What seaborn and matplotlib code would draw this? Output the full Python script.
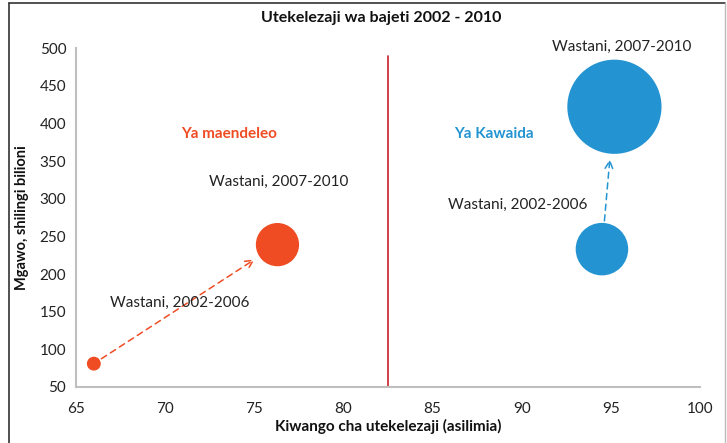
import matplotlib
matplotlib.use("Agg")
import matplotlib.pyplot as plt
from matplotlib.lines import Line2D
import seaborn as sns
import pandas as pd

# data
kundi = ["Ya maendeleo", "Ya maendeleo", "Ya Kawaida", "Ya Kawaida"]
kipindi = ["2002-2006", "2007-2010", "2002-2006", "2007-2010"]
utekelezaji = [66.0, 76.3, 94.5, 95.2]      # asilimia
mgawo = [81, 239, 233, 422]                 # shilingi bilioni
ukubwa = [10, 95, 140, 450]                 # bubble magnitude

x_ticks = [65, 70, 75, 80, 85, 90, 95, 100]
y_ticks = [50, 100, 150, 200, 250, 300, 350, 400, 450, 500]
mgawanyo_x = 82.5

RED = "#EF4C24"
BLUE = "#2394D1"
SIZES = (100, 4600)
SIZE_NORM = (10, 450)


def marker_area(v):
    # same linear mapping seaborn uses for size=
    return SIZES[0] + (v - SIZE_NORM[0]) / (SIZE_NORM[1] - SIZE_NORM[0]) * (SIZES[1] - SIZES[0])


df = pd.DataFrame({"kundi": kundi, "kipindi": kipindi,
                   "x": utekelezaji, "y": mgawo, "ukubwa": ukubwa})

sns.set_theme(style="white")
plt.rcParams["font.family"] = ["Lato", "DejaVu Sans"]

fig = plt.figure(figsize=(7.27, 4.43), dpi=100)
ax = fig.add_axes([76 / 727, 1 - 387 / 443, (700 - 76) / 727, (387 - 48) / 443])

sns.scatterplot(data=df, x="x", y="y", hue="kundi", size="ukubwa",
                palette={"Ya maendeleo": RED, "Ya Kawaida": BLUE},
                sizes=SIZES, size_norm=SIZE_NORM,
                linewidth=0, alpha=1, legend=False, ax=ax, zorder=3)

# vertical divider
ax.plot([mgawanyo_x, mgawanyo_x], [y_ticks[0], 490], color="#C8202C", lw=1.2, zorder=2)

# dashed arrows from small to large bubble in each group
for g, col in [("Ya maendeleo", RED), ("Ya Kawaida", BLUE)]:
    d = df[df.kundi == g].sort_values("kipindi")
    s_small = marker_area(d.ukubwa.iloc[0])
    s_big = marker_area(d.ukubwa.iloc[1])
    ax.annotate("", xy=(d.x.iloc[1], d.y.iloc[1]), xytext=(d.x.iloc[0], d.y.iloc[0]),
                arrowprops=dict(arrowstyle="->", color=col, lw=1.1, ls=(0, (4, 3)),
                                shrinkA=s_small ** 0.5 / 2 + 1.5,
                                shrinkB=s_big ** 0.5 / 2 + 4,
                                mutation_scale=14),
                zorder=2)

ax.text(73.6, 386, "Ya maendeleo", color=RED, fontsize=11, fontweight="bold",
        ha="center", va="center")
ax.text(88.45, 386, "Ya Kawaida", color=BLUE, fontsize=11, fontweight="bold",
        ha="center", va="center")
ax.text(76.35, 322, "Wastani, 2007-2010", fontsize=11, ha="center", va="center", color="#222222")
ax.text(70.8, 161, "Wastani, 2002-2006", fontsize=11, ha="center", va="center", color="#222222")
ax.text(95.6, 502, "Wastani, 2007-2010", fontsize=11, ha="center", va="center", color="#222222")
ax.text(89.8, 292, "Wastani, 2002-2006", fontsize=11, ha="center", va="center", color="#222222")

ax.set_xlim(x_ticks[0], x_ticks[-1])
ax.set_ylim(y_ticks[0], y_ticks[-1])
ax.set_xticks(x_ticks)
ax.set_yticks(y_ticks)
ax.tick_params(axis="both", direction="out", length=4, width=1.2, color="#BFBFBF",
               labelsize=11, labelcolor="#222222", pad=3)
ax.tick_params(axis="x", pad=7)
sns.despine(ax=ax)
for s in ["left", "bottom"]:
    ax.spines[s].set_color("#BFBFBF")
    ax.spines[s].set_linewidth(1.5)

ax.set_xlabel("Kiwango cha utekelezaji (asilimia)", fontsize=11, fontweight="bold",
              color="#111111", labelpad=2)
ax.set_ylabel("Mgawo, shilingi bilioni", fontsize=10.5, fontweight="bold",
              color="#111111", labelpad=8)
fig.text(381 / 727, 1 - 18 / 443, "Utekelezaji wa bajeti 2002 - 2010", fontsize=11.5,
         fontweight="bold", ha="center", va="center", color="#111111")

# outer frame
fig.add_artist(Line2D([9 / 727, 725 / 727], [1 - 3 / 443, 1 - 3 / 443], color="#333333", lw=1.2))
fig.add_artist(Line2D([9 / 727, 9 / 727], [0, 1 - 3 / 443], color="#333333", lw=1.2))
fig.add_artist(Line2D([725 / 727, 725 / 727], [0, 1 - 3 / 443], color="#BBBBBB", lw=1))

fig.savefig("out.png", dpi=100)
